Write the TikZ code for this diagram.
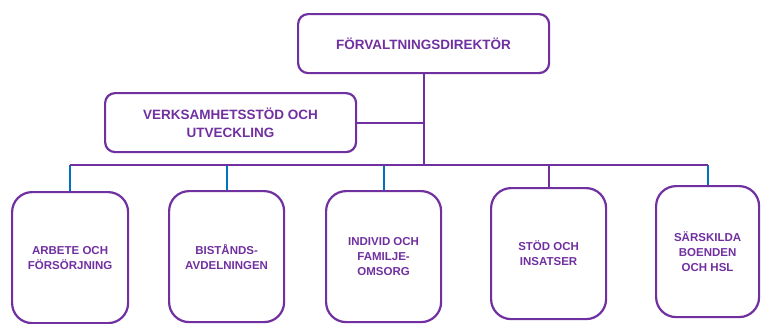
\documentclass[tikz,border=0pt]{standalone}
\usepackage{fontspec}
\setmainfont{Liberation Sans}
\usepackage{tikz}
\usetikzlibrary{calc}
\definecolor{orgpurple}{HTML}{7030A0}
\definecolor{orgblue}{HTML}{0070C0}
\tikzstyle{unit} = [rectangle, rounded corners=10pt, draw=orgpurple, line width=2.2pt, text=orgpurple, font=\bfseries\fontsize{13.5}{18}\selectfont, align=center, inner sep=0pt]
\tikzstyle{dept} = [unit, rounded corners=20pt, minimum height=131pt, font=\bfseries\fontsize{11.5}{15}\selectfont]
\tikzstyle{link} = [draw=orgpurple, line width=2.2pt]
\tikzstyle{drop} = [draw=orgblue, line width=1.8pt]

\begin{document}
\begin{tikzpicture}[x=1pt, y=-1pt]

        \useasboundingbox (0,0) rectangle (761,324);

        \node (chief) [unit, anchor=north west, minimum width=251pt, minimum height=59pt] at (297,13) {F\"ORVALTNINGSDIREKT\"OR};
        \node (staff) [unit, anchor=north west, minimum width=251pt, minimum height=59pt] at (104,92) {VERKSAMHETSST\"OD OCH\\UTVECKLING};

        \node (work)  [dept, anchor=north west, minimum width=116pt] at (11,191)  {ARBETE OCH\\F\"ORS\"ORJNING};
        \node (aid)   [dept, anchor=north west, minimum width=115pt] at (168,190) {BIST\r{A}NDS-\\AVDELNINGEN};
        \node (care)  [dept, anchor=north west, minimum width=115pt] at (325,190) {INDIVID OCH\\FAMILJE-\\OMSORG};
        \node (help)  [dept, anchor=north west, minimum width=115pt] at (490,187) {ST\"OD OCH\\INSATSER};
        \node (homes) [dept, anchor=north west, minimum width=103pt] at (655,185) {S\"ARSKILDA\\BOENDEN\\OCH HSL};

        \coordinate (busl) at (work.north |- 0,165);
        \coordinate (busr) at (homes.north |- 0,165);

        \draw [drop] (work.north |- busl) -- (work.north);
        \draw [drop] (aid.north |- busl) -- (aid.north);
        \draw [drop] (care.north |- busl) -- (care.north);
        \draw [drop] (homes.north |- busl) -- (homes.north);
        \draw [link] (help.north |- busl) -- (help.north);

        \draw [link] (chief.south) -- (chief.south |- busl);
        \draw [link] (staff.east) -- (staff.east -| chief.south);
        \draw [link] (busl) -- (busr);

    \end{tikzpicture}
\end{document}
